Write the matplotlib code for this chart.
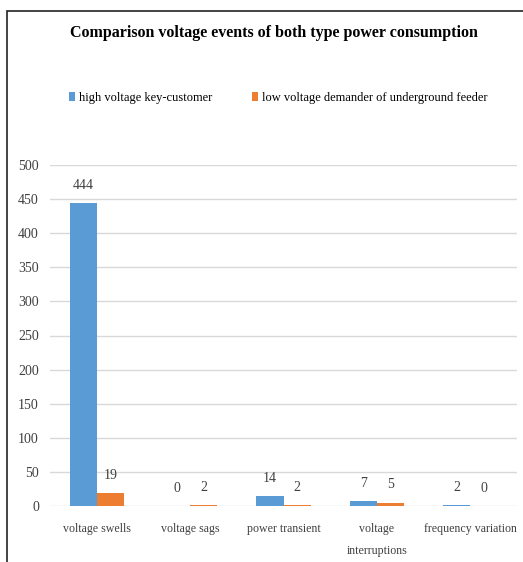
import numpy as np
import matplotlib.pyplot as plt
from matplotlib.patches import Rectangle

categories = ["voltage swells", "voltage sags", "power transient",
              "voltage\ninterruptions", "frequency variation"]
high_voltage = [444, 0, 14, 7, 2]
low_voltage = [19, 2, 2, 5, 0]
series_names = ["high voltage key-customer",
                "low voltage demander of underground feeder"]
y_ticks = [0, 50, 100, 150, 200, 250, 300, 350, 400, 450, 500]

plt.rcParams["font.family"] = ["Liberation Serif", "DejaVu Serif"]

fig = plt.figure(figsize=(5.23, 5.62), dpi=100)
ax = fig.add_axes([50 / 523, 1 - 506 / 562, 467 / 523, 341 / 562])

x = np.arange(len(categories))
w = 0.29
b1 = ax.bar(x - w / 2, high_voltage, w, color="#5B9BD5", label=series_names[0], zorder=3)
b2 = ax.bar(x + w / 2, low_voltage, w, color="#ED7D31", label=series_names[1], zorder=3)

# value labels above each bar
for bars in (b1, b2):
    for rect in bars:
        v = rect.get_height()
        ax.annotate(f"{int(v)}", (rect.get_x() + rect.get_width() / 2, v),
                    xytext=(0, 8), textcoords="offset points",
                    ha="center", va="bottom", fontsize=10, color="#404040")

ax.set_xlim(-0.5, len(categories) - 0.5)
ax.set_ylim(0, 500)
ax.set_yticks(y_ticks)
ax.set_yticklabels([str(t) for t in y_ticks], fontsize=10, color="#404040")
ax.set_xticks(x)
ax.set_xticklabels(categories, fontsize=8.6, color="#404040", linespacing=2.1)
ax.tick_params(axis="y", length=0, pad=8)
ax.tick_params(axis="x", length=0, pad=12)
ax.grid(axis="y", color="#d9d9d9", linewidth=1, zorder=0)
for s in ax.spines.values():
    s.set_visible(False)

fig.text(274 / 523, 1 - 33 / 562, "Comparison voltage events of both type power consumption",
         ha="center", va="center", fontsize=11.5, fontweight="bold")

fig.legend(handles=[b1, b2], labels=series_names, loc="center",
           bbox_to_anchor=(278 / 523, 1 - 98 / 562), ncol=2, frameon=False,
           fontsize=9, handlelength=0.5, handleheight=0.7, handletextpad=0.3,
           columnspacing=3.2)

# outer frame
fig.patches.append(Rectangle((7 / 523, -0.01), 1.1, 1 - 11 / 562 + 0.01,
                             transform=fig.transFigure, fill=False,
                             edgecolor="#222222", linewidth=1.2))

fig.savefig("out.png", dpi=100)
